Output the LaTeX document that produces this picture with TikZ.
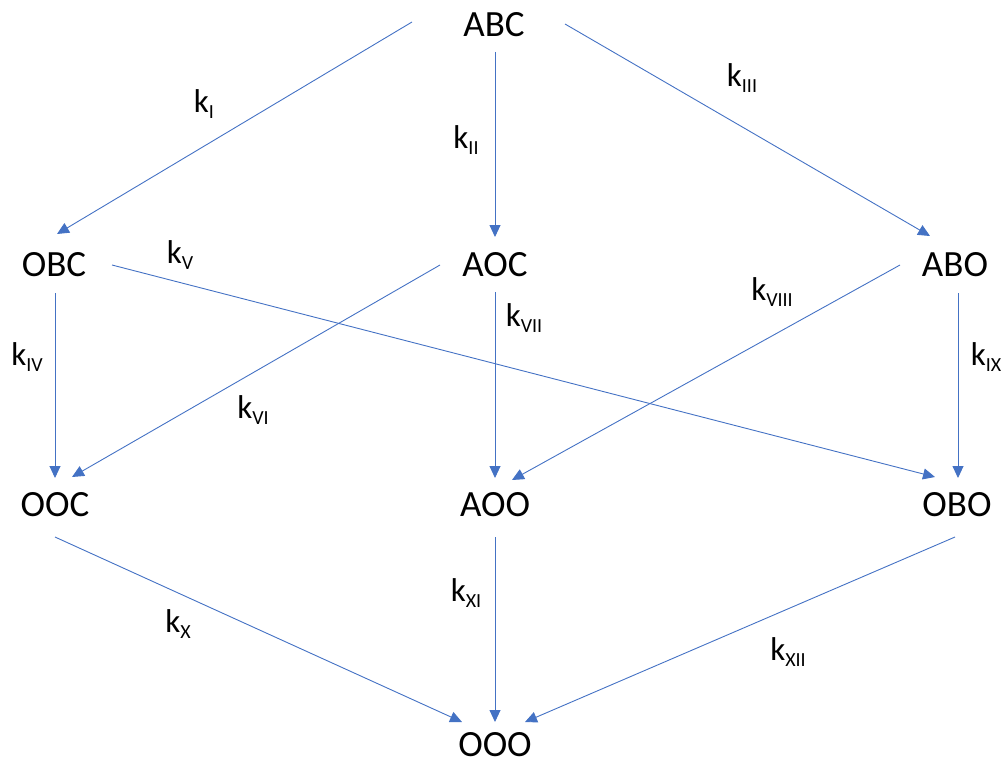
\documentclass[tikz,border=0pt]{standalone}
\usepackage{fontspec}
\setmainfont{Carlito}
\usetikzlibrary{arrows.meta,calc}
\definecolor{arrowblue}{HTML}{4472C4}
\newcommand{\kk}[1]{k\raisebox{-6pt}{\fontsize{20}{20}\selectfont #1}}
\tikzset{
  state/.style={inner sep=0pt, font=\fontsize{37}{40}\selectfont},
  rate/.style={inner sep=0pt, font=\fontsize{33}{36}\selectfont},
  arr/.style={draw=arrowblue, line width=0.9pt, -{Triangle[length=12pt,width=11pt]}}
}
\begin{document}
\begin{tikzpicture}[x=1pt,y=-1pt]
\useasboundingbox (0,0) rectangle (1008,765);
\node[state] (ABC) at (494,25) {ABC};
\node[state] (OBC) at (54,265) {OBC};
\node[state] (AOC) at (495,265) {AOC};
\node[state] (ABO) at (955,265) {ABO};
\node[state] (OOC) at (55,505) {OOC};
\node[state] (AOO) at (495,505) {AOO};
\node[state] (OBO) at (957,505) {OBO};
\node[state] (OOO) at (495,745) {OOO};

\draw[arr] ($(ABC)+(-82,-3)$) -- ($(OBC)+(3,-31)$);
\draw[arr] ($(ABC)+(1,27)$) -- ($(AOC)+(0,-28)$);
\draw[arr] ($(ABC)+(71,-1)$) -- ($(ABO)+(-25,-29)$);
\draw[arr] ($(OBC)+(1,28)$) -- ($(OOC)+(0,-27)$);
\draw[arr] ($(OBC)+(58,0)$) -- ($(OBO)+(-22,-28)$);
\draw[arr] ($(AOC)+(-55,0)$) -- ($(OOC)+(17,-28)$);
\draw[arr] ($(AOC)+(0,27)$) -- ($(AOO)+(0,-27)$);
\draw[arr] ($(ABO)+(-55,0)$) -- ($(AOO)+(17,-25)$);
\draw[arr] ($(ABO)+(3,28)$) -- ($(OBO)+(1,-27)$);
\draw[arr] ($(OOC)+(0,32)$) -- ($(OOO)+(-33,-23)$);
\draw[arr] ($(AOO)+(0,32)$) -- ($(OOO)+(0,-23)$);
\draw[arr] ($(OBO)+(-2,32)$) -- ($(OOO)+(30,-23)$);

\node[rate] (kI) at (204,104) {\kk{I}};
\node[rate] (kII) at (466,140) {\kk{II}};
\node[rate] (kIII) at (742,78) {\kk{III}};
\node[rate] (kIV) at (27,357) {\kk{IV}};
\node[rate] (kV) at (180,255) {\kk{V}};
\node[rate] (kVI) at (253,410) {\kk{VI}};
\node[rate] (kVII) at (524,318) {\kk{VII}};
\node[rate] (kVIII) at (772,292) {\kk{VIII}};
\node[rate] (kIX) at (986,357) {\kk{IX}};
\node[rate] (kX) at (178,624) {\kk{X}};
\node[rate] (kXI) at (466,593) {\kk{XI}};
\node[rate] (kXII) at (788,652) {\kk{XII}};
\end{tikzpicture}
\end{document}
